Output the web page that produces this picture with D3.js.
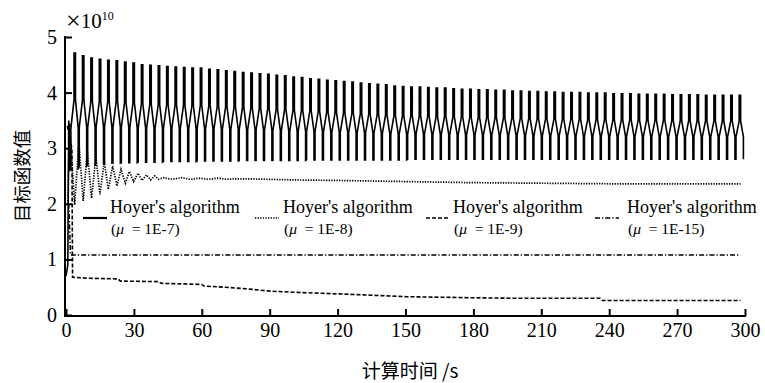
<!DOCTYPE html>
<html>
<head>
<meta charset="utf-8">
<script src="https://cdn.jsdelivr.net/npm/d3@7"></script>
<style>
  body { margin: 0; background: #fff; }
  text { font-family: "Liberation Serif", "Times New Roman", serif; fill: #000; }
  text.cjk { font-family: "Noto Sans CJK SC", sans-serif; }
</style>
</head>
<body>
<svg id="chart" width="765" height="383"></svg>
<script>
// axis ticks
const xTicks = [0, 30, 60, 90, 120, 150, 180, 210, 240, 270, 300];
const yTicks = [0, 1, 2, 3, 4, 5];

// mu = 1E-7 : oscillating series, one peak/trough per cycle
const solidLeadT = [0, 0.8, 1.2, 1.6, 2.2];
const solidLeadV = [0.7, 0.9, 3.5, 2.6, 2.62];
const solidFirstPeak = 4.0;   // s
const solidPeriod = 3.72;     // s
const solidPeaks = [
  4.71, 4.66, 4.62, 4.60, 4.58, 4.57, 4.55, 4.53, 4.50, 4.49,
  4.48, 4.47, 4.46, 4.45, 4.44, 4.44, 4.42, 4.41, 4.39, 4.38,
  4.36, 4.35, 4.34, 4.33, 4.31, 4.30, 4.28, 4.27, 4.25, 4.24,
  4.22, 4.21, 4.20, 4.19, 4.17, 4.16, 4.15, 4.14, 4.12, 4.11,
  4.10, 4.10, 4.09, 4.08, 4.08, 4.07, 4.06, 4.06, 4.05, 4.05,
  4.04, 4.04, 4.03, 4.03, 4.02, 4.02, 4.01, 4.01, 4.00, 4.00,
  4.00, 3.99, 3.99, 3.99, 3.98, 3.98, 3.98, 3.97, 3.97, 3.97,
  3.97, 3.96, 3.96, 3.96, 3.96, 3.95, 3.95, 3.95, 3.95, 3.95
];
const solidTroughs = [
  2.62, 2.68, 2.70, 2.72, 2.73, 2.73, 2.74, 2.74, 2.75, 2.75,
  2.75, 2.76, 2.76, 2.76, 2.76, 2.77, 2.77, 2.77, 2.77, 2.77,
  2.78, 2.78, 2.78, 2.78, 2.78, 2.78, 2.78, 2.78, 2.79, 2.79,
  2.79, 2.79, 2.79, 2.79, 2.79, 2.79, 2.79, 2.79, 2.79, 2.79,
  2.80, 2.80, 2.80, 2.80, 2.80, 2.80, 2.80, 2.80, 2.80, 2.80,
  2.80, 2.80, 2.80, 2.80, 2.80, 2.80, 2.80, 2.80, 2.80, 2.80,
  2.80, 2.80, 2.80, 2.80, 2.80, 2.80, 2.80, 2.80, 2.80, 2.80,
  2.80, 2.80, 2.80, 2.80, 2.80, 2.80, 2.80, 2.80, 2.80, 2.80
];

// mu = 1E-8 : dotted
const dottedT = [0.8, 1.6, 3.8, 5.7, 7.6, 9.4, 11.3, 13.2, 15.0, 16.9, 18.7, 20.6, 22.5, 24.3,
  26.2, 28.0, 29.9, 31.8, 33.6, 35.5, 37.4, 39.2, 41, 43, 47, 51, 55, 59, 63, 67, 71, 75, 80,
  100, 120, 150, 180, 210, 240, 270, 298];
const dottedV = [2.0, 3.45, 1.98, 3.1, 2.05, 2.95, 2.1, 2.85, 2.17, 2.76, 2.26, 2.68, 2.32, 2.62,
  2.37, 2.58, 2.4, 2.55, 2.42, 2.52, 2.43, 2.5, 2.44, 2.47, 2.44, 2.47, 2.44, 2.46, 2.44, 2.46, 2.44, 2.45, 2.45,
  2.43, 2.42, 2.40, 2.38, 2.37, 2.36, 2.36, 2.36];

// mu = 1E-9 : dashed
const dashedT = [0.6, 2.6, 2.9, 10, 23, 24, 41, 42, 60, 61, 70, 80, 90, 100, 120, 150, 180, 200, 236, 237, 298];
const dashedV = [3.4, 3.0, 0.68, 0.66, 0.65, 0.61, 0.60, 0.57, 0.55, 0.52, 0.50, 0.47, 0.43, 0.41, 0.38, 0.33, 0.31, 0.30, 0.30, 0.26, 0.26];

// mu = 1E-15 : dash-dot
const dashDotT = [1.2, 2.0, 298];
const dashDotV = [2.0, 1.08, 1.08];

const legendNames = ["Hoyer's algorithm", "Hoyer's algorithm", "Hoyer's algorithm", "Hoyer's algorithm"];
const legendMu = ["1E-7", "1E-8", "1E-9", "1E-15"];

const svg = d3.select("#chart");
const x = d3.scaleLinear().domain([0, 300]).range([66, 745]);
const y = d3.scaleLinear().domain([0, 5]).range([315, 37]);

// build the zig-zag of the oscillating series
function buildSolid() {
  const pts = solidLeadT.map((t, i) => [t, solidLeadV[i]]);
  const P = solidPeriod;
  solidPeaks.forEach((hi, k) => {
    const lo = solidTroughs[k];
    const a = hi - lo;
    const tb = solidFirstPeak + k * P - 0.5 * P;
    pts.push([tb, lo]);
    pts.push([tb, lo + 0.35 * a]);
    pts.push([tb + 0.38 * P, hi - 0.4 * a]);
    pts.push([tb + 0.38 * P, hi]);
    pts.push([tb + 0.55 * P, hi]);
    pts.push([tb + 0.55 * P, hi - 0.4 * a]);
    pts.push([tb + 0.88 * P, lo + 0.35 * a]);
    pts.push([tb + 0.88 * P, lo]);
  });
  return pts.filter(p => p[0] <= 300);
}

const line = d3.line().x(d => x(d[0])).y(d => y(d[1]));

const series = [
  { pts: dottedT.map((t, i) => [t, dottedV[i]]), dash: "1.3,1.3", w: 1.7 },
  { pts: dashedT.map((t, i) => [t, dashedV[i]]), dash: "4,2", w: 1.6 },
  { pts: dashDotT.map((t, i) => [t, dashDotV[i]]), dash: "5,2,1.3,2", w: 1.5 },
  { pts: buildSolid(), dash: null, w: 1.6 }
];

svg.append("g").selectAll("path")
  .data(series)
  .enter()
  .append("path")
  .attr("d", d => line(d.pts))
  .attr("fill", "none")
  .attr("stroke", "#000")
  .attr("stroke-width", d => d.w)
  .attr("stroke-dasharray", d => d.dash);

// axes
const xAxis = svg.append("g")
  .attr("transform", "translate(0,316)")
  .call(d3.axisBottom(x).tickValues(xTicks).tickSize(-7).tickSizeOuter(0).tickPadding(7));
const yAxis = svg.append("g")
  .attr("transform", "translate(65,0)")
  .call(d3.axisLeft(y).tickValues(yTicks).tickSize(-7).tickSizeOuter(0).tickPadding(8).tickFormat(d3.format("d")));

[xAxis, yAxis].forEach(ax => {
  ax.attr("font-family", null);
  ax.select(".domain").attr("stroke", "#000").attr("stroke-width", 2);
  ax.selectAll(".tick line").attr("stroke", "#000").attr("stroke-width", 2);
  ax.selectAll(".tick text")
    .style("font-family", "'Liberation Serif', serif")
    .attr("font-size", 20)
    .attr("fill", "#000");
});
// extend domains so axes meet at the corner
xAxis.select(".domain").attr("d", "M" + 64 + ",0H" + 746);
yAxis.select(".domain").attr("d", "M0," + 317 + "V" + 36);

// x10^10 multiplier
const mult = svg.append("text").attr("x", 66).attr("y", 28).attr("font-size", 21);
mult.append("tspan").attr("font-size", 26).attr("dy", 1).text("×");
mult.append("tspan").attr("dy", -1).text("10");
mult.append("tspan").attr("dy", -8).attr("font-size", 12).text("10");

// axis titles
svg.append("text")
  .attr("class", "cjk")
  .attr("x", 410).attr("y", 378)
  .attr("text-anchor", "middle")
  .attr("font-size", 19)
  .text("计算时间 /s");

svg.append("text")
  .attr("class", "cjk")
  .attr("transform", "translate(29,176) rotate(-90)")
  .attr("text-anchor", "middle")
  .attr("font-size", 18.5)
  .text("目标函数值");

// legend
const legendX = [83, 255, 426, 595];
const legendTextX = [110, 283, 453, 627];
const legendDash = [null, "1.3,1.3", "4,2", "5,2,1.3,2"];
const legend = svg.append("g").selectAll("g")
  .data(legendNames)
  .enter()
  .append("g");

legend.append("line")
  .attr("x1", (d, i) => legendX[i]).attr("x2", (d, i) => legendX[i] + 24)
  .attr("y1", 218).attr("y2", 218)
  .attr("stroke", "#000")
  .attr("stroke-width", (d, i) => i === 0 ? 2.2 : 1.6)
  .attr("stroke-dasharray", (d, i) => legendDash[i]);

legend.append("text")
  .attr("x", (d, i) => legendTextX[i]).attr("y", 213)
  .attr("font-size", 18)
  .text(d => d);

const muText = legend.append("text")
  .attr("x", (d, i) => legendTextX[i] + 1).attr("y", 234)
  .attr("font-size", 15.5)
  .style("white-space", "pre");
muText.append("tspan").text("(");
muText.append("tspan").attr("font-style", "italic").text("μ");
muText.append("tspan").text((d, i) => "  = " + legendMu[i] + ")");
</script>
</body>
</html>
